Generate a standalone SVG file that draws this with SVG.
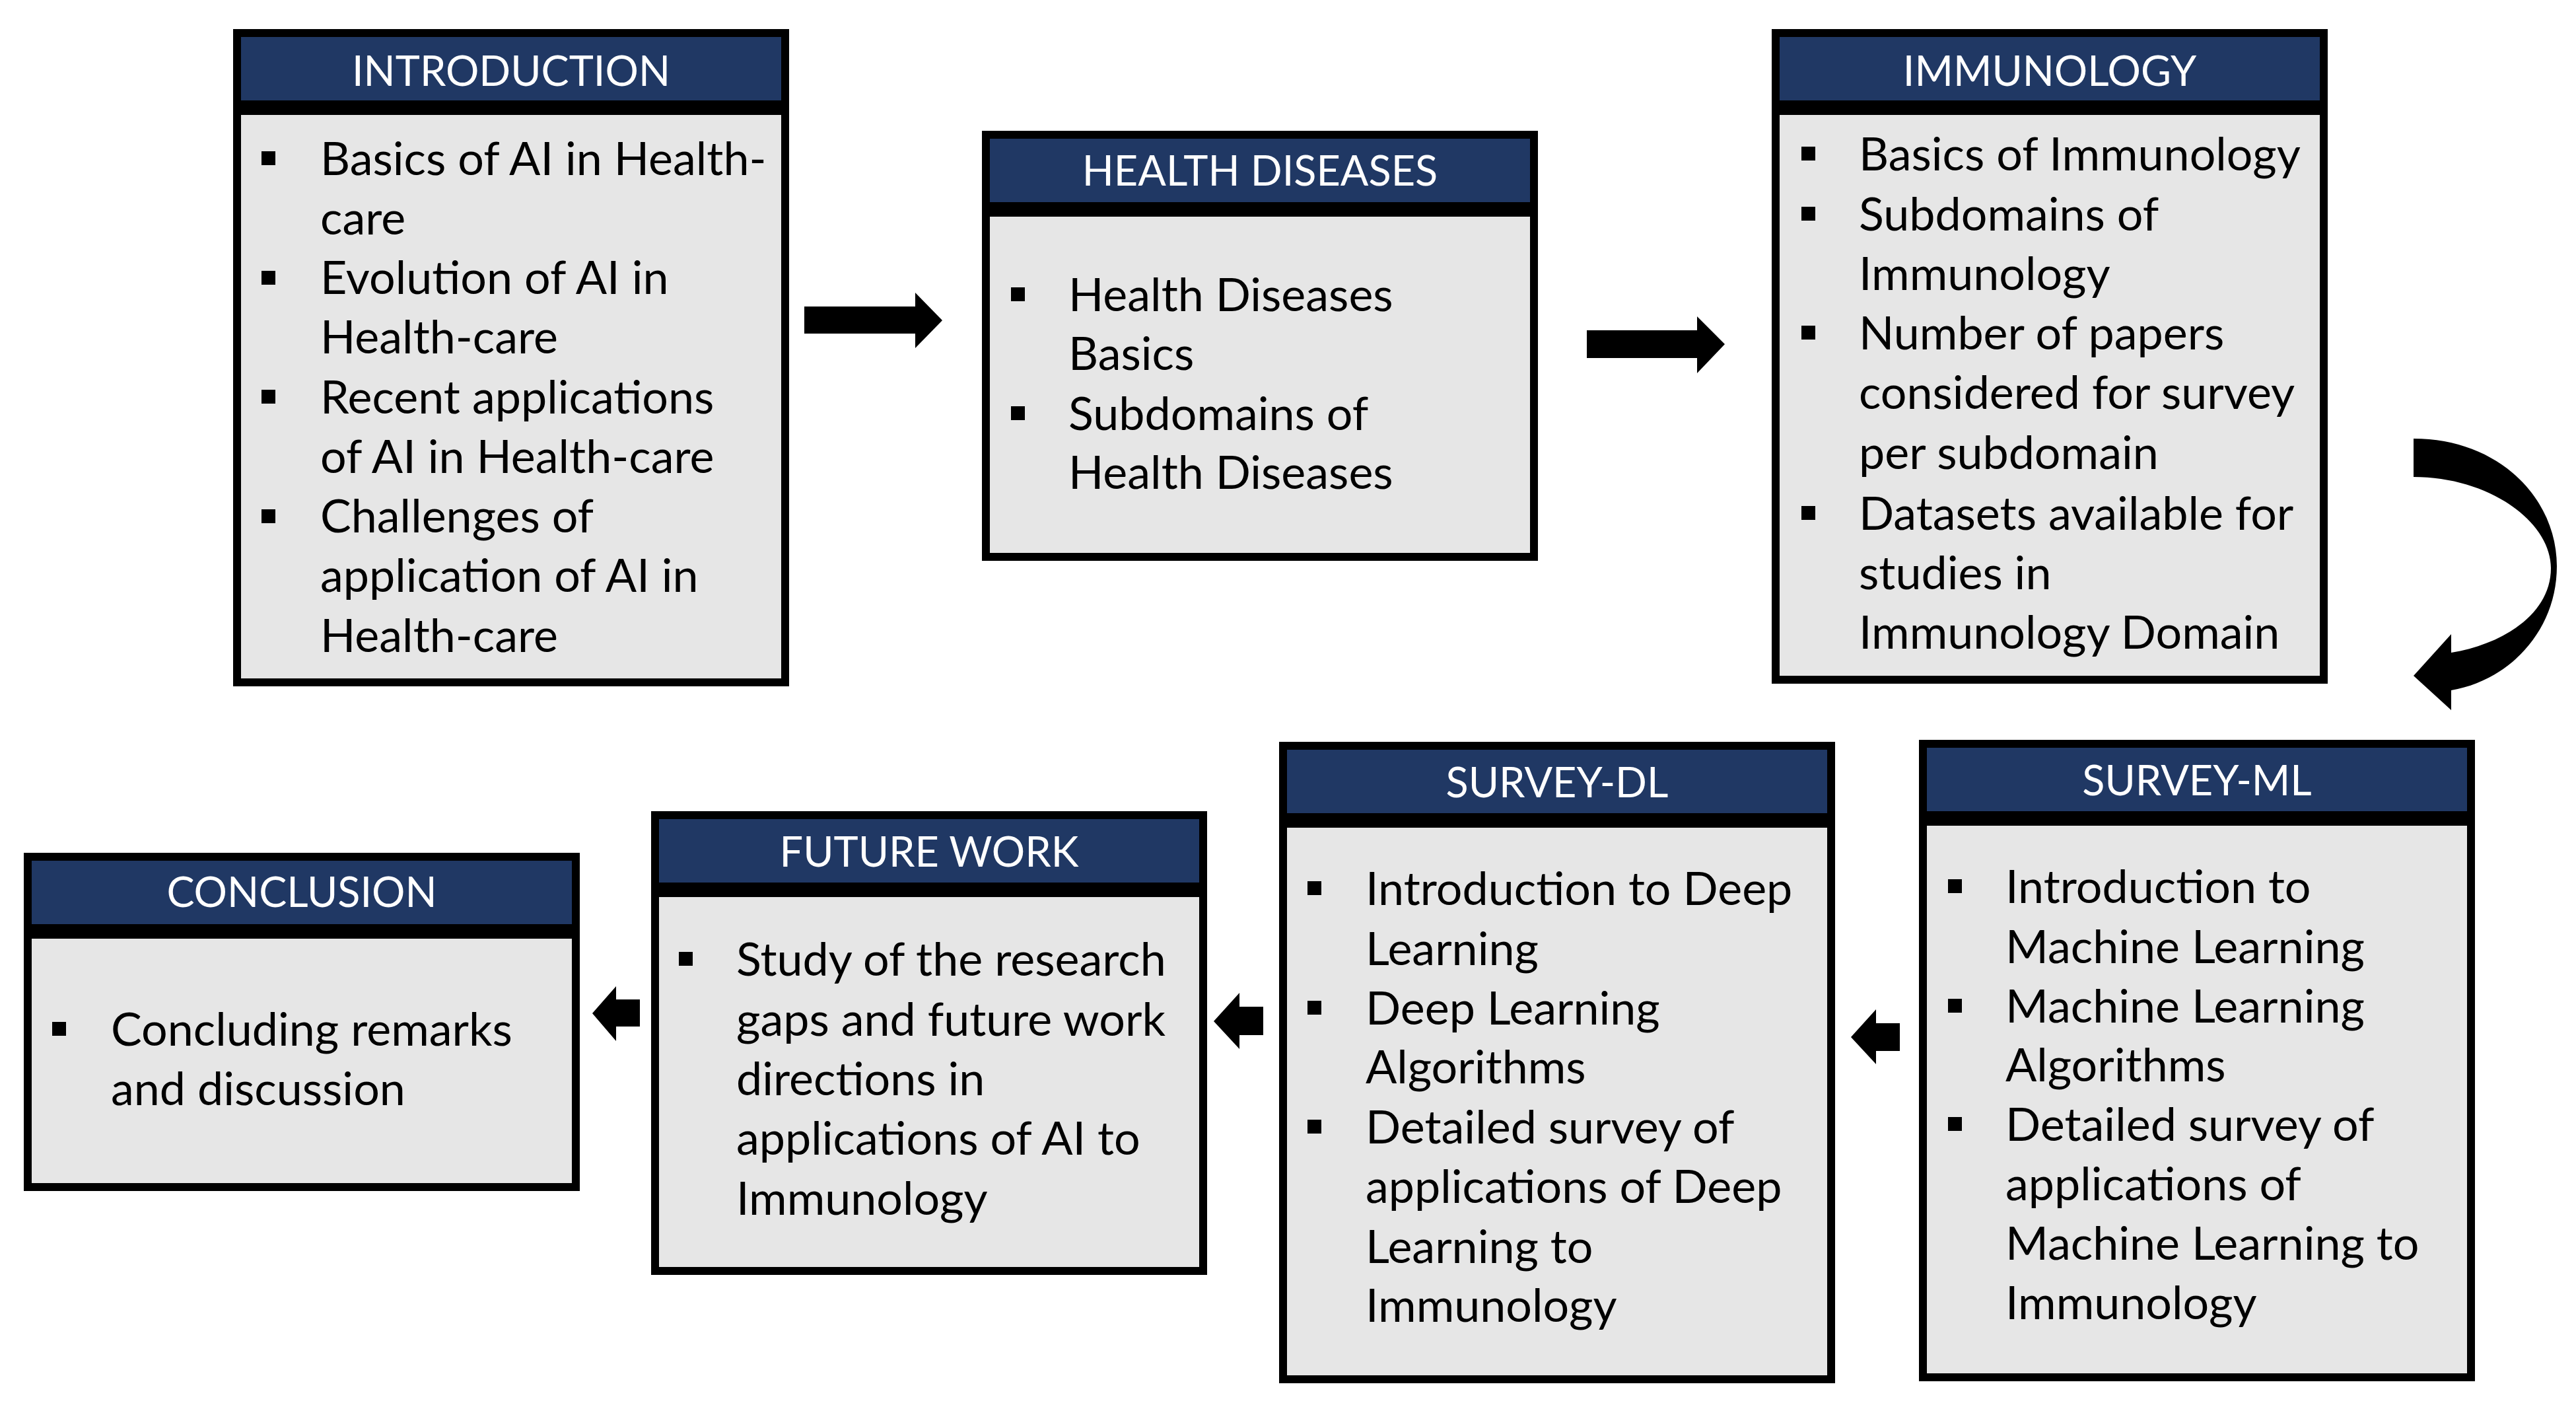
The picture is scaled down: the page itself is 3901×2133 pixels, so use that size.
<svg xmlns="http://www.w3.org/2000/svg" width="3901" height="2133" viewBox="0 0 3901 2133">
<style>
.frame{fill:#000}
.head{fill:#203864}
.body{fill:#e6e6e6}
.title{font-family:"Lato","Liberation Sans",sans-serif;font-size:63px;fill:#fff;text-anchor:middle}
.txt{font-family:"Lato","Liberation Sans",sans-serif;font-size:70px;fill:#000}
.bul{fill:#000}
.arrow{fill:#000}
</style>
<rect width="3901" height="2133" fill="#fff"/>
<g id="introduction">
<rect class="frame" x="353" y="44" width="842" height="995"/>
<rect class="head" x="365" y="56" width="818" height="96"/>
<rect class="body" x="365" y="174" width="818" height="853"/>
<text class="title" x="774" y="130">INTRODUCTION</text>
<rect class="bul" x="396" y="229" width="21" height="21"/>
<rect class="bul" x="396" y="410" width="21" height="21"/>
<rect class="bul" x="396" y="590" width="21" height="21"/>
<rect class="bul" x="396" y="771" width="21" height="21"/>
<text class="txt" x="485" y="265">Basics of AI in Health-</text>
<text class="txt" x="485" y="355">care</text>
<text class="txt" x="485" y="445">Evolution of AI in</text>
<text class="txt" x="485" y="535">Health-care</text>
<text class="txt" x="485" y="626">Recent applications</text>
<text class="txt" x="485" y="716">of AI in Health-care</text>
<text class="txt" x="485" y="806">Challenges of</text>
<text class="txt" x="485" y="896">application of AI in</text>
<text class="txt" x="485" y="987">Health-care</text>
</g>
<g id="health-diseases">
<rect class="frame" x="1487" y="198" width="842" height="651"/>
<rect class="head" x="1499" y="210" width="818" height="96"/>
<rect class="body" x="1499" y="328" width="818" height="509"/>
<text class="title" x="1908" y="281">HEALTH DISEASES</text>
<rect class="bul" x="1531" y="435" width="21" height="21"/>
<rect class="bul" x="1531" y="615" width="21" height="21"/>
<text class="txt" x="1618" y="471">Health Diseases</text>
<text class="txt" x="1618" y="560">Basics</text>
<text class="txt" x="1618" y="651">Subdomains of</text>
<text class="txt" x="1618" y="740">Health Diseases</text>
</g>
<g id="immunology">
<rect class="frame" x="2683" y="44" width="842" height="991"/>
<rect class="head" x="2695" y="56" width="818" height="96"/>
<rect class="body" x="2695" y="174" width="818" height="849"/>
<text class="title" x="3104" y="130">IMMUNOLOGY</text>
<rect class="bul" x="2728" y="222" width="21" height="21"/>
<rect class="bul" x="2728" y="313" width="21" height="21"/>
<rect class="bul" x="2728" y="493" width="21" height="21"/>
<rect class="bul" x="2728" y="766" width="21" height="21"/>
<text class="txt" x="2815" y="258">Basics of Immunology</text>
<text class="txt" x="2815" y="349">Subdomains of</text>
<text class="txt" x="2815" y="439">Immunology</text>
<text class="txt" x="2815" y="529">Number of papers</text>
<text class="txt" x="2815" y="619">considered for survey</text>
<text class="txt" x="2815" y="710">per subdomain</text>
<text class="txt" x="2815" y="802">Datasets available for</text>
<text class="txt" x="2815" y="892">studies in</text>
<text class="txt" x="2815" y="982">Immunology Domain</text>
</g>
<g id="survey-ml">
<rect class="frame" x="2906" y="1120" width="842" height="971"/>
<rect class="head" x="2918" y="1132" width="818" height="96"/>
<rect class="body" x="2918" y="1250" width="818" height="829"/>
<text class="title" x="3327" y="1204">SURVEY-ML</text>
<rect class="bul" x="2950" y="1331" width="21" height="21"/>
<rect class="bul" x="2950" y="1512" width="21" height="21"/>
<rect class="bul" x="2950" y="1691" width="21" height="21"/>
<text class="txt" x="3037" y="1367">Introduction to</text>
<text class="txt" x="3037" y="1458">Machine Learning</text>
<text class="txt" x="3037" y="1548">Machine Learning</text>
<text class="txt" x="3037" y="1637">Algorithms</text>
<text class="txt" x="3037" y="1727">Detailed survey of</text>
<text class="txt" x="3037" y="1817">applications of</text>
<text class="txt" x="3037" y="1907">Machine Learning to</text>
<text class="txt" x="3037" y="1997">Immunology</text>
</g>
<g id="survey-dl">
<rect class="frame" x="1937" y="1123" width="842" height="971"/>
<rect class="head" x="1949" y="1135" width="818" height="96"/>
<rect class="body" x="1949" y="1253" width="818" height="829"/>
<text class="title" x="2358" y="1207">SURVEY-DL</text>
<rect class="bul" x="1980" y="1334" width="21" height="21"/>
<rect class="bul" x="1980" y="1515" width="21" height="21"/>
<rect class="bul" x="1980" y="1695" width="21" height="21"/>
<text class="txt" x="2068" y="1370">Introduction to Deep</text>
<text class="txt" x="2068" y="1461">Learning</text>
<text class="txt" x="2068" y="1551">Deep Learning</text>
<text class="txt" x="2068" y="1640">Algorithms</text>
<text class="txt" x="2068" y="1731">Detailed survey of</text>
<text class="txt" x="2068" y="1821">applications of Deep</text>
<text class="txt" x="2068" y="1912">Learning to</text>
<text class="txt" x="2068" y="2001">Immunology</text>
</g>
<g id="future-work">
<rect class="frame" x="986" y="1228" width="842" height="702"/>
<rect class="head" x="998" y="1240" width="818" height="96"/>
<rect class="body" x="998" y="1358" width="818" height="560"/>
<text class="title" x="1407" y="1312">FUTURE WORK</text>
<rect class="bul" x="1028" y="1441" width="21" height="21"/>
<text class="txt" x="1115" y="1477">Study of the research</text>
<text class="txt" x="1115" y="1568">gaps and future work</text>
<text class="txt" x="1115" y="1658">directions in</text>
<text class="txt" x="1115" y="1748">applications of AI to</text>
<text class="txt" x="1115" y="1839">Immunology</text>
</g>
<g id="conclusion">
<rect class="frame" x="36" y="1291" width="842" height="512"/>
<rect class="head" x="48" y="1303" width="818" height="96"/>
<rect class="body" x="48" y="1421" width="818" height="370"/>
<text class="title" x="457" y="1373">CONCLUSION</text>
<rect class="bul" x="79" y="1547" width="21" height="21"/>
<text class="txt" x="168" y="1583">Concluding remarks</text>
<text class="txt" x="168" y="1673">and discussion</text>
</g>
<g id="connectors">
<polygon class="arrow" points="1218,464 1386,464 1386,443 1427,485 1386,527 1386,505 1218,505"/>
<polygon class="arrow" points="2403,500 2570,500 2570,479 2612,521 2570,565 2570,542 2403,542"/>
<path class="arrow" d="M3655,664 C3785,664 3872,755 3872,857 C3872,955 3800,1030 3712,1045 L3712,1075 L3655,1023 L3712,960 L3712,988 C3790,975 3863,930 3863,860 C3863,790 3770,722 3655,722 Z"/>
<polygon class="arrow" points="2877,1549 2841,1549 2841,1528 2803,1570 2841,1611 2841,1591 2877,1591"/>
<polygon class="arrow" points="1913,1524 1877,1524 1877,1503 1838,1546 1877,1588 1877,1567 1913,1567"/>
<polygon class="arrow" points="969,1513 933,1513 933,1493 897,1534 933,1576 933,1554 969,1554"/>
</g>
</svg>
